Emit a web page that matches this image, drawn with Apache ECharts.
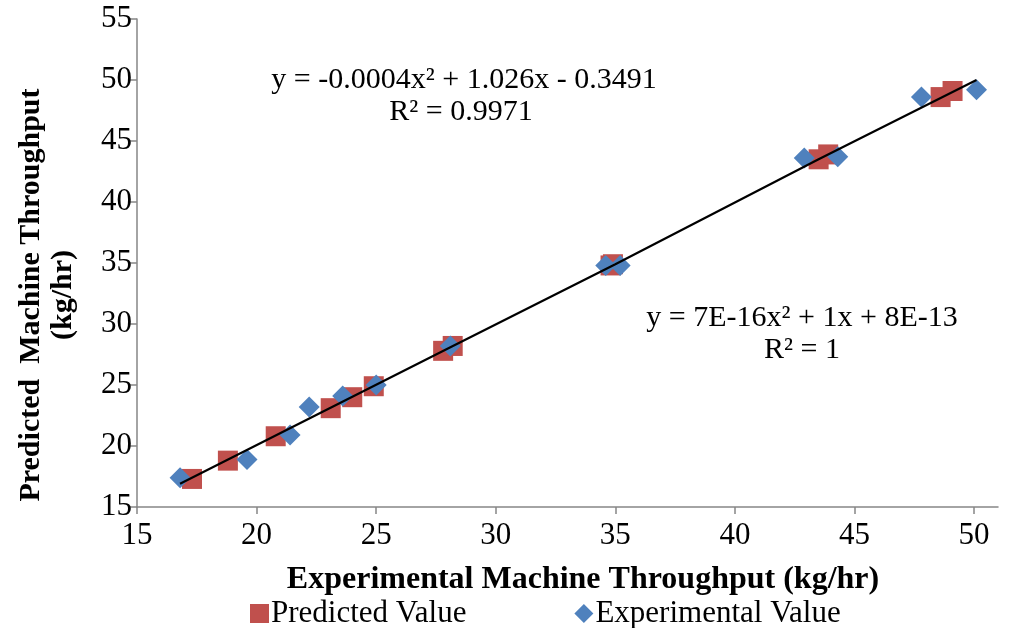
<!DOCTYPE html>
<html>
<head>
<meta charset="utf-8">
<title>Predicted vs Experimental Machine Throughput</title>
<script src="https://cdn.jsdelivr.net/npm/echarts@6/dist/echarts.min.js"></script>
<style>
  html, body { margin: 0; padding: 0; background: #fff; }
  #chart { width: 1012px; height: 628px; }
</style>
</head>
<body>
<div id="chart"></div>
<script>
// predicted values (plotted against themselves, R² = 1)
const predicted = [17.3, 18.8, 20.8, 23.1, 24.0, 24.9, 27.8, 28.2, 34.8, 34.9, 43.5, 43.9, 48.6, 49.1];
// experimental value vs predicted value
const experimentalX = [16.8, 19.6, 21.4, 22.2, 23.6, 25.0, 28.1, 34.6, 35.2, 42.9, 44.3, 47.8, 50.1];
const experimentalY = [17.4, 18.9, 20.9, 23.2, 24.1, 25.0, 28.2, 34.8, 34.8, 43.6, 43.7, 48.6, 49.2];
// trendline points
const trendX = [16.8, 28.0, 35.0, 43.5, 50.1];
const trendY = [16.9, 28.0, 34.9, 43.5, 50.0];
const xTicks = [15, 20, 25, 30, 35, 40, 45, 50];

const serif = "'Liberation Serif', 'Times New Roman', serif";
const axisGray = "#868686";

let myChart = echarts.init(document.getElementById("chart"));

let option = {
  animation: false,
  grid: { left: 137, top: 19, right: 14, bottom: 121, containLabel: false },
  xAxis: {
    type: "value",
    min: 15,
    max: 51,
    interval: 5,
    splitLine: { show: false },
    axisLine: { show: true, lineStyle: { color: axisGray, width: 1.5 } },
    axisTick: { show: true, length: 7, customValues: xTicks, lineStyle: { color: axisGray, width: 1.5 } },
    axisLabel: { customValues: xTicks, color: "#000", fontSize: 31, fontFamily: serif, margin: 13 },
  },
  yAxis: {
    type: "value",
    min: 15,
    max: 55,
    interval: 5,
    splitLine: { show: false },
    axisLine: { show: true, lineStyle: { color: axisGray, width: 1.5 } },
    axisTick: { show: true, length: 7, lineStyle: { color: axisGray, width: 1.5 } },
    axisLabel: { color: "#000", fontSize: 31, fontFamily: serif, margin: 5 },
  },
  legend: {
    left: 245,
    top: 593,
    itemGap: 108,
    itemWidth: 19,
    itemHeight: 19,
    textStyle: { color: "#000", fontSize: 31, fontFamily: serif, padding: [0, 0, 0, -3] },
    data: [
      { name: "Predicted Value", icon: "rect" },
      { name: "Experimental Value", icon: "diamond" },
    ],
  },
  series: [
    {
      name: "Predicted Value",
      type: "scatter",
      symbol: "rect",
      symbolSize: 20,
      itemStyle: { color: "#C0504D", opacity: 1 },
      data: predicted.map((v) => [v, v]),
      z: 2,
    },
    {
      name: "Experimental Value",
      type: "scatter",
      symbol: "diamond",
      symbolSize: 21,
      itemStyle: { color: "#4F81BD", opacity: 1 },
      data: experimentalX.map((v, i) => [v, experimentalY[i]]),
      z: 3,
    },
    {
      name: "trend",
      type: "line",
      showSymbol: false,
      silent: true,
      lineStyle: { color: "#000", width: 2.2 },
      data: trendX.map((v, i) => [v, trendY[i]]),
      z: 4,
    },
  ],
  graphic: [
    {
      type: "text",
      x: 583, y: 580,
      style: { text: "Experimental Machine Throughput (kg/hr)", fill: "#000", font: "bold 32px " + serif, align: "center", verticalAlign: "middle" },
    },
    {
      type: "text",
      x: 31, y: 295, rotation: Math.PI / 2,
      style: { text: "Predicted  Machine Throughput", fill: "#000", font: "bold 30px " + serif, align: "center", verticalAlign: "middle" },
    },
    {
      type: "text",
      x: 63, y: 295, rotation: Math.PI / 2,
      style: { text: "(kg/hr)", fill: "#000", font: "bold 30px " + serif, align: "center", verticalAlign: "middle" },
    },
    {
      type: "text",
      x: 464, y: 80,
      style: { text: "y = -0.0004x² + 1.026x - 0.3491", fill: "#000", font: "30px " + serif, align: "center", verticalAlign: "middle" },
    },
    {
      type: "text",
      x: 461, y: 112,
      style: { text: "R² = 0.9971", fill: "#000", font: "30px " + serif, align: "center", verticalAlign: "middle" },
    },
    {
      type: "text",
      x: 802, y: 318,
      style: { text: "y = 7E-16x² + 1x + 8E-13", fill: "#000", font: "30px " + serif, align: "center", verticalAlign: "middle" },
    },
    {
      type: "text",
      x: 802, y: 350,
      style: { text: "R² = 1", fill: "#000", font: "30px " + serif, align: "center", verticalAlign: "middle" },
    },
  ],
};

myChart.setOption(option, true);

window.addEventListener("resize", () => {
  myChart.resize();
});
</script>
</body>
</html>
